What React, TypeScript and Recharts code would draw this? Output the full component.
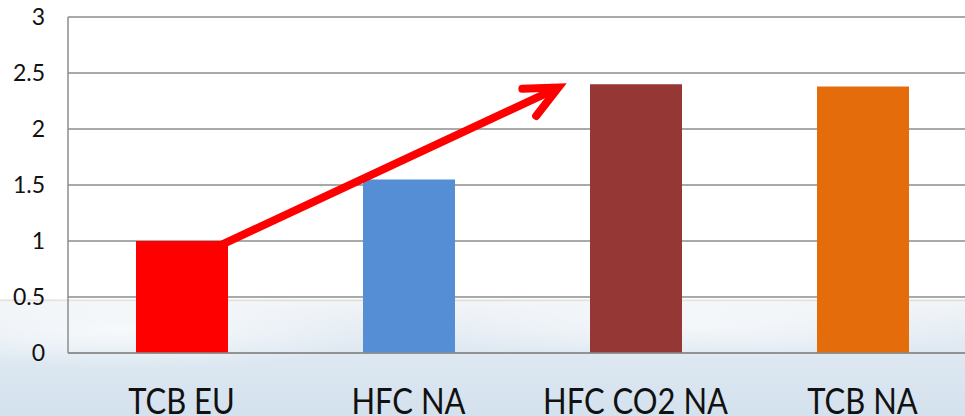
import { BarChart, Bar, XAxis, YAxis, CartesianGrid, Cell, ReferenceLine } from 'recharts';

const categories = ['TCB EU', 'HFC NA', 'HFC CO2 NA', 'TCB NA'];
const values = [1.0, 1.55, 2.4, 2.38];
const barColors = ['#ff0000', '#558ed5', '#953735', '#e46c0a'];
const yTicks = [0, 0.5, 1, 1.5, 2, 2.5, 3];

// trend arrow, in (category position, value) units: from the top of TCB EU towards HFC CO2 NA
const arrowFrom = { x: 0.68, y: 0.97 };
const arrowTo = { x: 2.16, y: 2.37 };

// pos = centre of each category on a 0..4 linear scale, used by the hidden axis
const data = categories.map((name, i) => ({ name, value: values[i], pos: i + 0.5 }));

const FONT = 'Lato, "Open Sans", sans-serif';

const CategoryTick = ({ x, y, payload }: any) => (
  <g transform={`translate(${x},${y + 59}) scale(0.86,1)`}>
    <text x={0} y={0} textAnchor="middle" fill="#111" fontSize={36} fontFamily={FONT}>
      {payload.value}
    </text>
  </g>
);

const Arrow = ({ x1, y1, x2, y2 }: any) => {
  const dx = x1 - x2;
  const dy = y1 - y2;
  const len = Math.hypot(dx, dy) || 1;
  const ux = dx / len;
  const uy = dy / len;
  const head = 36;
  const arm = (deg: number) => {
    const a = (deg * Math.PI) / 180;
    return {
      x: x2 + head * (ux * Math.cos(a) - uy * Math.sin(a)),
      y: y2 + head * (ux * Math.sin(a) + uy * Math.cos(a)),
    };
  };
  const a1 = arm(23);
  const a2 = arm(-27);
  return (
    <g stroke="#ff0000" strokeWidth={8} fill="none">
      <line x1={x1} y1={y1} x2={x2} y2={y2} strokeLinecap="butt" />
      <polyline
        points={`${a1.x},${a1.y} ${x2},${y2} ${a2.x},${a2.y}`}
        strokeLinecap="round"
        strokeLinejoin="miter"
      />
    </g>
  );
};

export default function App() {
  return (
    <div
      style={{
        position: 'absolute',
        top: 0,
        left: 0,
        width: 965,
        height: 416,
        overflow: 'hidden',
        background:
          'radial-gradient(ellipse 260px 40px at 120px 330px, rgba(255,255,255,0.7), rgba(255,255,255,0)), radial-gradient(ellipse 300px 35px at 700px 325px, rgba(255,255,255,0.6), rgba(255,255,255,0)), linear-gradient(to bottom, #ffffff 0px, #ffffff 299px, #d9d9d9 300px, #f2f5f8 302px, #e6edf4 325px, #dce7f1 360px, #d4e2ee 416px)',
      }}
    >
      <BarChart
        width={1000}
        height={416}
        data={data}
        margin={{ top: 17, right: 24, left: 0, bottom: 0 }}
        barSize={92}
      >
        <CartesianGrid vertical={false} stroke="#8c8c8c" strokeWidth={1.5} />
        <XAxis
          dataKey="name"
          height={63}
          axisLine={{ stroke: '#8c8c8c', strokeWidth: 1.5 }}
          tickLine={false}
          tickSize={0}
          tick={<CategoryTick />}
          interval={0}
        />
        <XAxis
          xAxisId="n"
          dataKey="pos"
          type="number"
          domain={[0, 4]}
          allowDataOverflow
          hide
        />
        <YAxis
          width={68}
          domain={[0, 3]}
          ticks={yTicks}
          axisLine={{ stroke: '#8c8c8c', strokeWidth: 1.5 }}
          tickLine={false}
          tickSize={0}
          tickMargin={23}
          tick={{ fill: '#111', fontSize: 23, fontFamily: FONT }}
        />
        <Bar dataKey="value" isAnimationActive={false}>
          {data.map((d, i) => (
            <Cell key={d.name} fill={barColors[i]} />
          ))}
        </Bar>
        <ReferenceLine
          xAxisId="n"
          segment={[arrowFrom, arrowTo]}
          shape={<Arrow />}
          ifOverflow="visible"
        />
      </BarChart>
    </div>
  );
}
